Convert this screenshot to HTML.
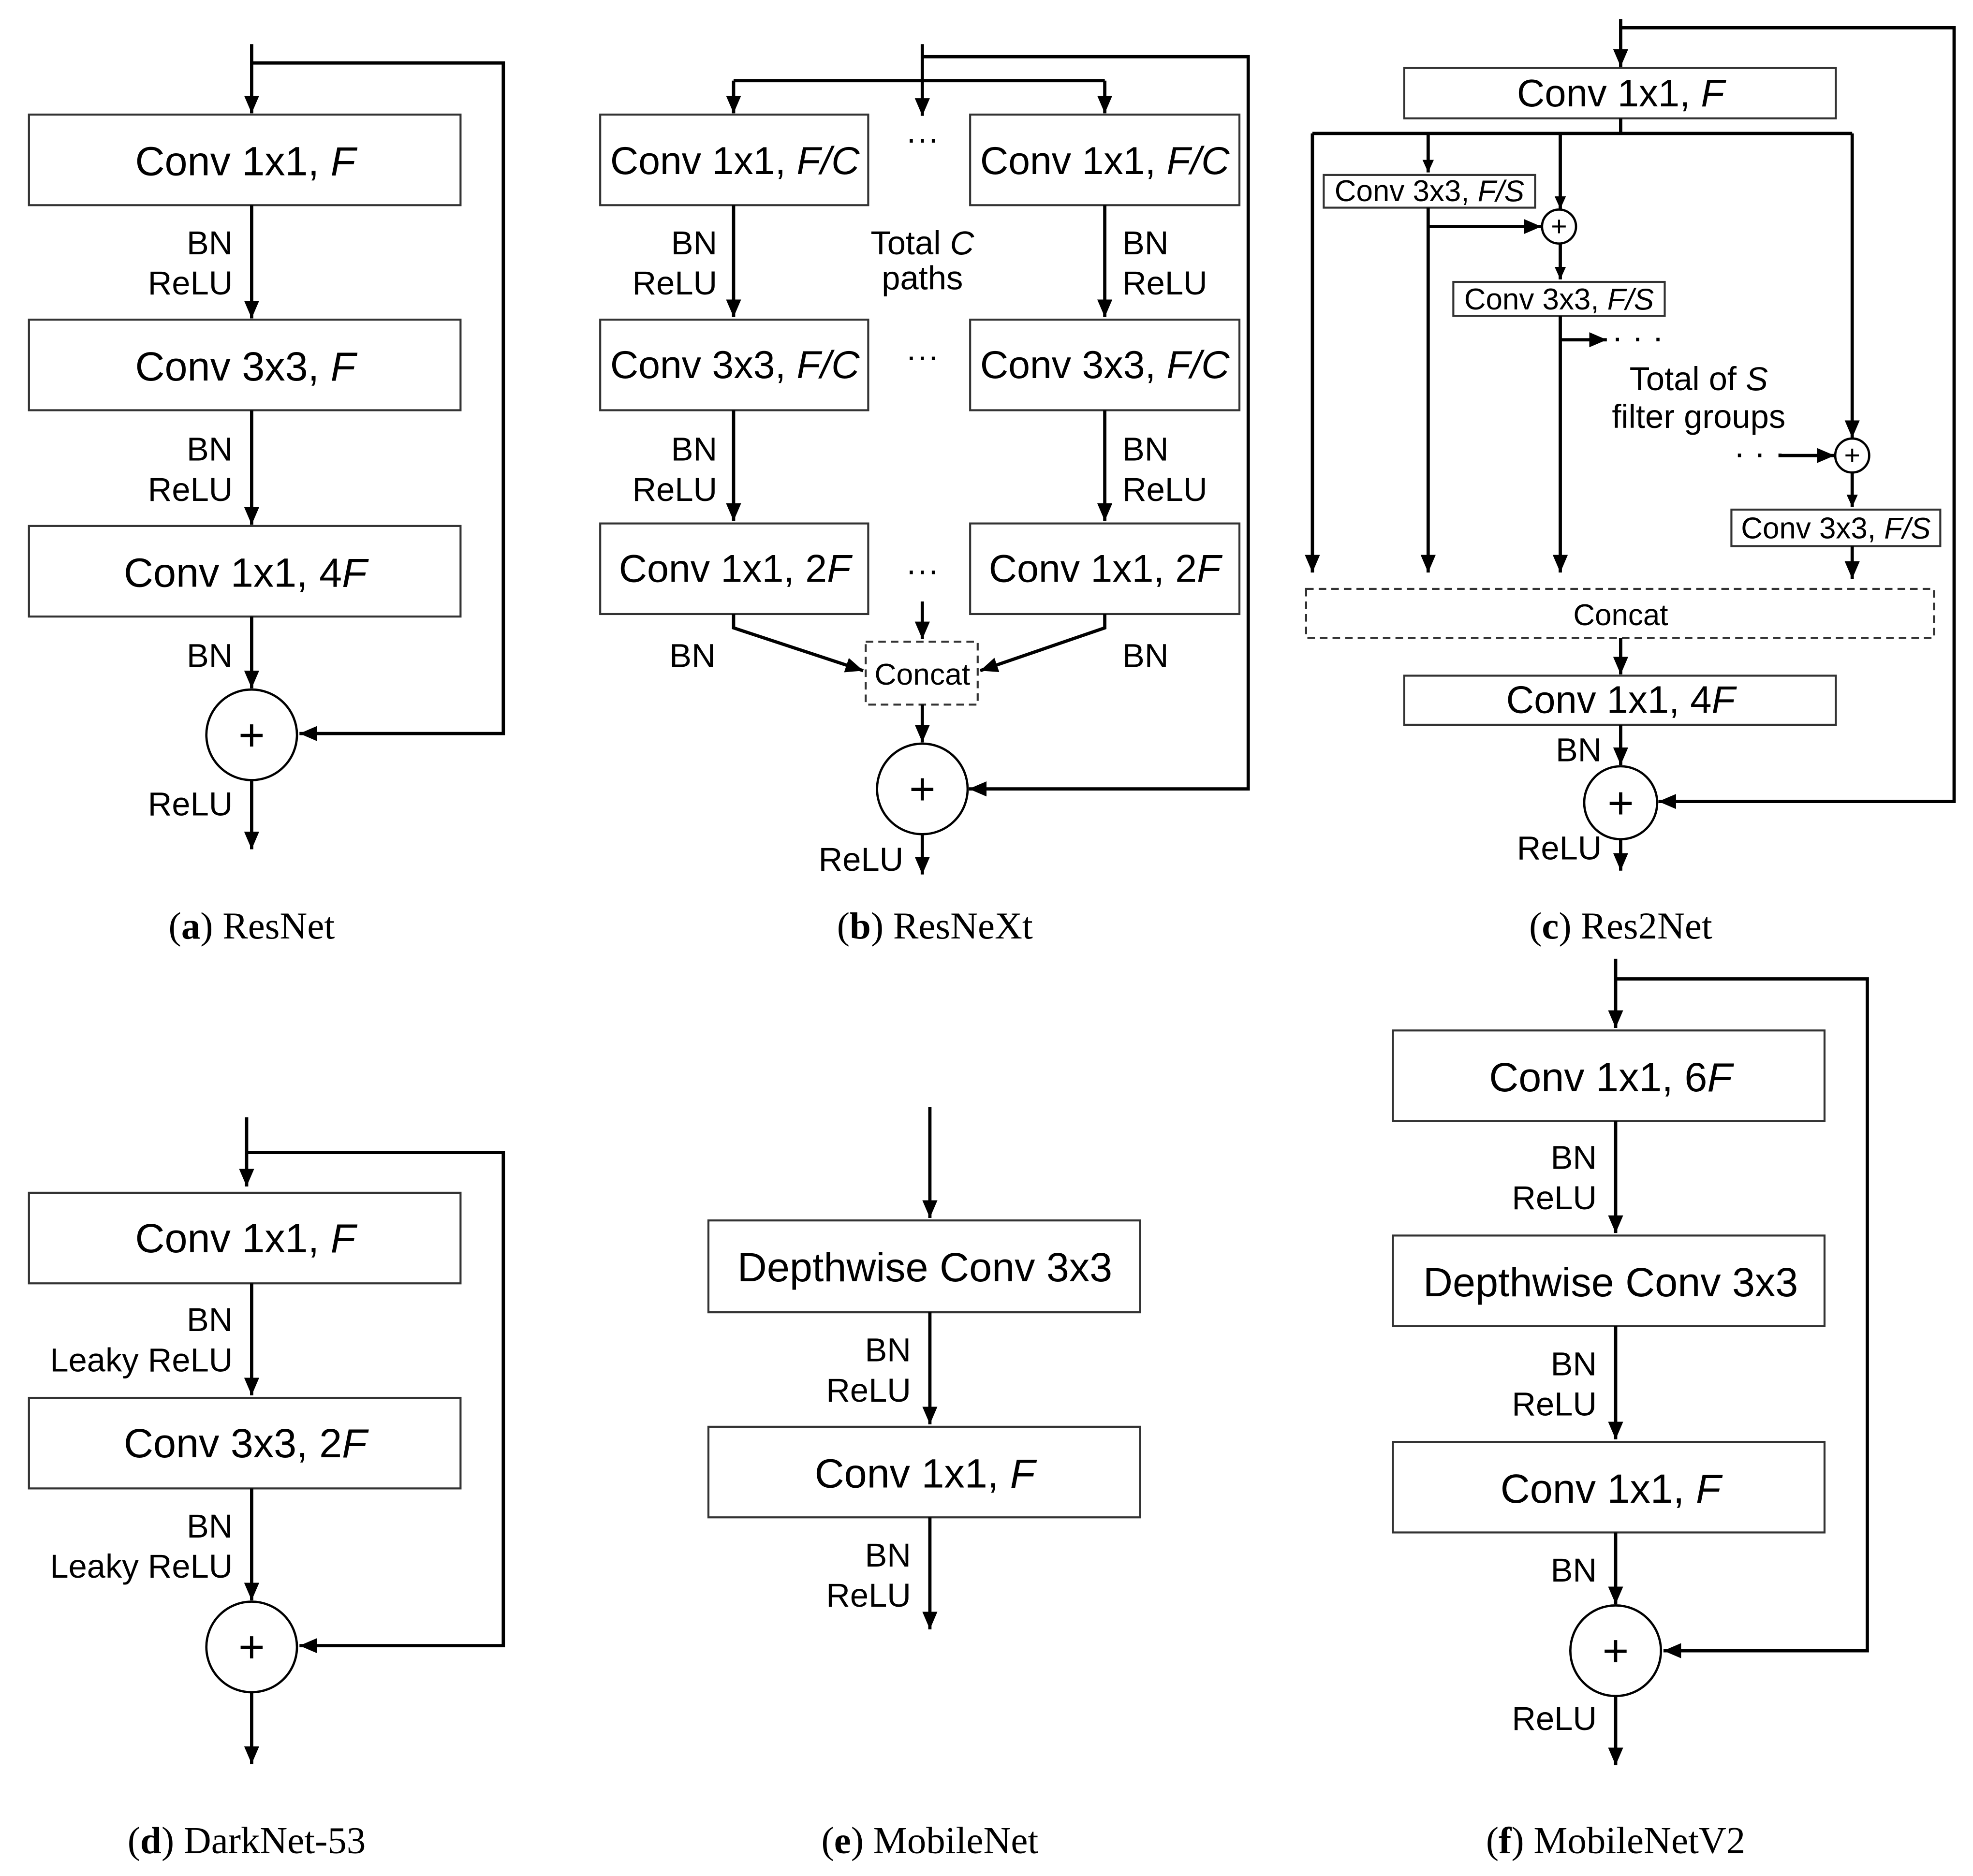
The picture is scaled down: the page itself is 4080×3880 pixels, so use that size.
<!DOCTYPE html>
<html><head><meta charset="utf-8"><style>
html,body{margin:0;padding:0;background:#fff;}
svg{display:block;}
text{font-family:"Liberation Sans",sans-serif;fill:#000;}
.bx{font-size:32.5px;text-anchor:middle;dominant-baseline:central;}
.bx2{font-size:30.6px;}
.bx3{font-size:31px;}
.sb{font-size:23.8px;text-anchor:middle;dominant-baseline:central;}
.lb{font-size:26.4px;dominant-baseline:central;}
.r{text-anchor:end;}
.c{text-anchor:middle;}
.cap{font-family:"Liberation Serif",serif;font-size:30.3px;text-anchor:middle;dominant-baseline:central;}
.plus{font-size:36px;text-anchor:middle;dominant-baseline:central;}
line,polyline,path{stroke:#000;stroke-width:2.6;fill:none;}
rect{fill:#fff;stroke:#333;stroke-width:1.6;}
rect.d{stroke-dasharray:6 4;}
circle{fill:#fff;stroke:#000;stroke-width:1.8;}
</style></head><body>
<svg width="4080" height="3880" viewBox="0 0 1568 1491" xmlns="http://www.w3.org/2000/svg">
<defs>
<marker id="m" viewBox="0 0 14 12" refX="14" refY="6" markerWidth="14" markerHeight="12" orient="auto" markerUnits="userSpaceOnUse"><path d="M0,0 L14,6 L0,12 z" style="fill:#000;stroke:none"/></marker>
<marker id="s" viewBox="0 0 10 9" refX="10" refY="4.5" markerWidth="10" markerHeight="9" orient="auto" markerUnits="userSpaceOnUse"><path d="M0,0 L10,4.5 L0,9 z" style="fill:#000;stroke:none"/></marker></defs>

<!-- (a) -->
<line x1="200" y1="35" x2="200" y2="90" marker-end="url(#m)"/>
<polyline points="200,50 400,50 400,583 238,583" marker-end="url(#m)"/>
<rect x="23" y="91" width="343" height="72"/><text class="bx" x="195" y="128">Conv 1x1, <tspan font-style="italic">F</tspan></text>
<line x1="200" y1="163" x2="200" y2="253" marker-end="url(#m)"/>
<text class="lb r" x="185" y="193">BN</text><text class="lb r" x="185" y="225">ReLU</text>
<rect x="23" y="254" width="343" height="72"/><text class="bx" x="195" y="291">Conv 3x3, <tspan font-style="italic">F</tspan></text>
<line x1="200" y1="326" x2="200" y2="417" marker-end="url(#m)"/>
<text class="lb r" x="185" y="357">BN</text><text class="lb r" x="185" y="389">ReLU</text>
<rect x="23" y="418" width="343" height="72"/><text class="bx" x="195" y="455">Conv 1x1, 4<tspan font-style="italic">F</tspan></text>
<line x1="200" y1="490" x2="200" y2="547" marker-end="url(#m)"/>
<text class="lb r" x="185" y="521">BN</text>
<circle cx="200" cy="584" r="36"/><text class="plus" x="200" y="584">+</text>
<line x1="200" y1="620" x2="200" y2="675" marker-end="url(#m)"/>
<text class="lb r" x="185" y="639">ReLU</text>
<text class="cap" x="200" y="736">(<tspan font-weight="bold">a</tspan>) ResNet</text>

<!-- (b) -->
<line x1="733" y1="35" x2="733" y2="92" marker-end="url(#m)"/>
<line x1="583" y1="64" x2="878" y2="64"/>
<line x1="583" y1="64" x2="583" y2="90" marker-end="url(#m)"/>
<line x1="878" y1="64" x2="878" y2="90" marker-end="url(#m)"/>
<polyline points="733,45 992,45 992,627 770,627" marker-end="url(#m)"/>
<rect x="477" y="91" width="213" height="72"/><text class="bx bx3" x="584" y="128">Conv 1x1, <tspan font-style="italic">F/C</tspan></text>
<rect x="771" y="91" width="214" height="72"/><text class="bx bx3" x="878" y="128">Conv 1x1, <tspan font-style="italic">F/C</tspan></text>
<text class="lb c" x="733" y="110">···</text>
<line x1="583" y1="163" x2="583" y2="252" marker-end="url(#m)"/>
<line x1="878" y1="163" x2="878" y2="252" marker-end="url(#m)"/>
<text class="lb r" x="570" y="193">BN</text><text class="lb r" x="570" y="225">ReLU</text>
<text class="lb" x="892" y="193">BN</text><text class="lb" x="892" y="225">ReLU</text>
<text class="lb c" x="733" y="193">Total <tspan font-style="italic">C</tspan></text><text class="lb c" x="733" y="221">paths</text>
<rect x="477" y="254" width="213" height="72"/><text class="bx bx3" x="584" y="290">Conv 3x3, <tspan font-style="italic">F/C</tspan></text>
<rect x="771" y="254" width="214" height="72"/><text class="bx bx3" x="878" y="290">Conv 3x3, <tspan font-style="italic">F/C</tspan></text>
<text class="lb c" x="733" y="283">···</text>
<line x1="583" y1="326" x2="583" y2="414" marker-end="url(#m)"/>
<line x1="878" y1="326" x2="878" y2="414" marker-end="url(#m)"/>
<text class="lb r" x="570" y="357">BN</text><text class="lb r" x="570" y="389">ReLU</text>
<text class="lb" x="892" y="357">BN</text><text class="lb" x="892" y="389">ReLU</text>
<rect x="477" y="416" width="213" height="72"/><text class="bx bx3" x="584" y="452">Conv 1x1, 2<tspan font-style="italic">F</tspan></text>
<rect x="771" y="416" width="214" height="72"/><text class="bx bx3" x="878" y="452">Conv 1x1, 2<tspan font-style="italic">F</tspan></text>
<text class="lb c" x="733" y="453">···</text>
<polyline points="583,488 583,499 686,533" marker-end="url(#m)"/>
<polyline points="878,488 878,499 779,533" marker-end="url(#m)"/>
<line x1="733" y1="478" x2="733" y2="508" marker-end="url(#m)"/>
<text class="lb" x="532" y="521">BN</text><text class="lb" x="892" y="521">BN</text>
<rect class="d" x="688" y="510" width="89" height="50"/><text class="lb c" x="733" y="536" style="font-size:24px">Concat</text>
<line x1="733" y1="560" x2="733" y2="590" marker-end="url(#m)"/>
<circle cx="733" cy="627" r="36"/><text class="plus" x="733" y="627">+</text>
<line x1="733" y1="663" x2="733" y2="695" marker-end="url(#m)"/>
<text class="lb r" x="718" y="683">ReLU</text>
<text class="cap" x="743" y="736">(<tspan font-weight="bold">b</tspan>) ResNeXt</text>

<!-- (c) -->
<line x1="1288" y1="15" x2="1288" y2="53" marker-end="url(#m)"/>
<polyline points="1288,22 1553,22 1553,637 1318,637" marker-end="url(#m)"/>
<rect x="1116" y="54" width="343" height="40"/><text class="bx bx2" x="1288" y="74">Conv 1x1, <tspan font-style="italic">F</tspan></text>
<line x1="1288" y1="94" x2="1288" y2="106"/>
<line x1="1043" y1="106" x2="1472" y2="106"/>
<line x1="1043" y1="106" x2="1043" y2="455" marker-end="url(#m)"/>
<line x1="1135" y1="106" x2="1135" y2="137" marker-end="url(#s)"/>
<line x1="1240" y1="106" x2="1240" y2="166" marker-end="url(#s)"/>
<line x1="1472" y1="106" x2="1472" y2="348" marker-end="url(#m)"/>
<rect x="1052" y="139" width="168" height="26"/><text class="sb" x="1136" y="152">Conv 3x3, <tspan font-style="italic">F/S</tspan></text>
<line x1="1135" y1="165" x2="1135" y2="455" marker-end="url(#m)"/>
<line x1="1135" y1="180" x2="1225" y2="180" marker-end="url(#m)"/>
<circle cx="1239" cy="180" r="13.5"/><text class="sb" x="1239" y="180" style="font-size:22px">+</text>
<line x1="1240" y1="194" x2="1240" y2="222" marker-end="url(#s)"/>
<rect x="1155" y="224" width="168" height="27"/><text class="sb" x="1239" y="238">Conv 3x3, <tspan font-style="italic">F/S</tspan></text>
<line x1="1240" y1="251" x2="1240" y2="455" marker-end="url(#m)"/>
<line x1="1240" y1="270" x2="1277" y2="270" marker-end="url(#m)"/>
<text class="lb" x="1281" y="268">· · ·</text>
<text class="lb c" x="1350" y="301">Total of <tspan font-style="italic">S</tspan></text><text class="lb c" x="1350" y="331">filter groups</text>
<text class="lb" x="1378" y="360">· · ·</text>
<line x1="1414" y1="362" x2="1458" y2="362" marker-end="url(#m)"/>
<circle cx="1472" cy="362" r="13.5"/><text class="sb" x="1472" y="362" style="font-size:22px">+</text>
<line x1="1472" y1="376" x2="1472" y2="403" marker-end="url(#s)"/>
<rect x="1376" y="405" width="166" height="29"/><text class="sb" x="1459" y="420">Conv 3x3, <tspan font-style="italic">F/S</tspan></text>
<line x1="1472" y1="434" x2="1472" y2="460" marker-end="url(#m)"/>
<rect class="d" x="1038" y="468" width="499" height="39"/><text class="sb" x="1288" y="489">Concat</text>
<line x1="1288" y1="507" x2="1288" y2="536" marker-end="url(#m)"/>
<rect x="1116" y="537" width="343" height="39"/><text class="bx bx2" x="1288" y="556">Conv 1x1, 4<tspan font-style="italic">F</tspan></text>
<line x1="1288" y1="576" x2="1288" y2="608" marker-end="url(#m)"/>
<text class="lb r" x="1273" y="596">BN</text>
<circle cx="1288" cy="638" r="29"/><text class="plus" x="1288" y="638">+</text>
<line x1="1288" y1="667" x2="1288" y2="692" marker-end="url(#m)"/>
<text class="lb r" x="1273" y="674">ReLU</text>
<text class="cap" x="1288" y="736">(<tspan font-weight="bold">c</tspan>) Res2Net</text>

<!-- (d) -->
<line x1="196" y1="888" x2="196" y2="943" marker-end="url(#m)"/>
<polyline points="196,916 400,916 400,1308 238,1308" marker-end="url(#m)"/>
<rect x="23" y="948" width="343" height="72"/><text class="bx" x="195" y="984">Conv 1x1, <tspan font-style="italic">F</tspan></text>
<line x1="200" y1="1020" x2="200" y2="1109" marker-end="url(#m)"/>
<text class="lb r" x="185" y="1049">BN</text><text class="lb r" x="185" y="1081">Leaky ReLU</text>
<rect x="23" y="1111" width="343" height="72"/><text class="bx" x="195" y="1147">Conv 3x3, 2<tspan font-style="italic">F</tspan></text>
<line x1="200" y1="1183" x2="200" y2="1272" marker-end="url(#m)"/>
<text class="lb r" x="185" y="1213">BN</text><text class="lb r" x="185" y="1245">Leaky ReLU</text>
<circle cx="200" cy="1309" r="36"/><text class="plus" x="200" y="1309">+</text>
<line x1="200" y1="1345" x2="200" y2="1402" marker-end="url(#m)"/>
<text class="cap" x="196" y="1463">(<tspan font-weight="bold">d</tspan>) DarkNet-53</text>

<!-- (e) -->
<line x1="739" y1="880" x2="739" y2="968" marker-end="url(#m)"/>
<rect x="563" y="970" width="343" height="73"/><text class="bx" x="735" y="1007">Depthwise Conv 3x3</text>
<line x1="739" y1="1043" x2="739" y2="1132" marker-end="url(#m)"/>
<text class="lb r" x="724" y="1073">BN</text><text class="lb r" x="724" y="1105">ReLU</text>
<rect x="563" y="1134" width="343" height="72"/><text class="bx" x="735" y="1171">Conv 1x1, <tspan font-style="italic">F</tspan></text>
<line x1="739" y1="1206" x2="739" y2="1295" marker-end="url(#m)"/>
<text class="lb r" x="724" y="1236">BN</text><text class="lb r" x="724" y="1268">ReLU</text>
<text class="cap" x="739" y="1463">(<tspan font-weight="bold">e</tspan>) MobileNet</text>

<!-- (f) -->
<line x1="1284" y1="762" x2="1284" y2="817" marker-end="url(#m)"/>
<polyline points="1284,778 1484,778 1484,1312 1322,1312" marker-end="url(#m)"/>
<rect x="1107" y="819" width="343" height="72"/><text class="bx" x="1280" y="856">Conv 1x1, 6<tspan font-style="italic">F</tspan></text>
<line x1="1284" y1="891" x2="1284" y2="980" marker-end="url(#m)"/>
<text class="lb r" x="1269" y="920">BN</text><text class="lb r" x="1269" y="952">ReLU</text>
<rect x="1107" y="982" width="343" height="72"/><text class="bx" x="1280" y="1019">Depthwise Conv 3x3</text>
<line x1="1284" y1="1054" x2="1284" y2="1144" marker-end="url(#m)"/>
<text class="lb r" x="1269" y="1084">BN</text><text class="lb r" x="1269" y="1116">ReLU</text>
<rect x="1107" y="1146" width="343" height="72"/><text class="bx" x="1280" y="1183">Conv 1x1, <tspan font-style="italic">F</tspan></text>
<line x1="1284" y1="1218" x2="1284" y2="1275" marker-end="url(#m)"/>
<text class="lb r" x="1269" y="1248">BN</text>
<circle cx="1284" cy="1312" r="36"/><text class="plus" x="1284" y="1312">+</text>
<line x1="1284" y1="1348" x2="1284" y2="1403" marker-end="url(#m)"/>
<text class="lb r" x="1269" y="1366">ReLU</text>
<text class="cap" x="1284" y="1463">(<tspan font-weight="bold">f</tspan>) MobileNetV2</text>
</svg>
</body></html>
